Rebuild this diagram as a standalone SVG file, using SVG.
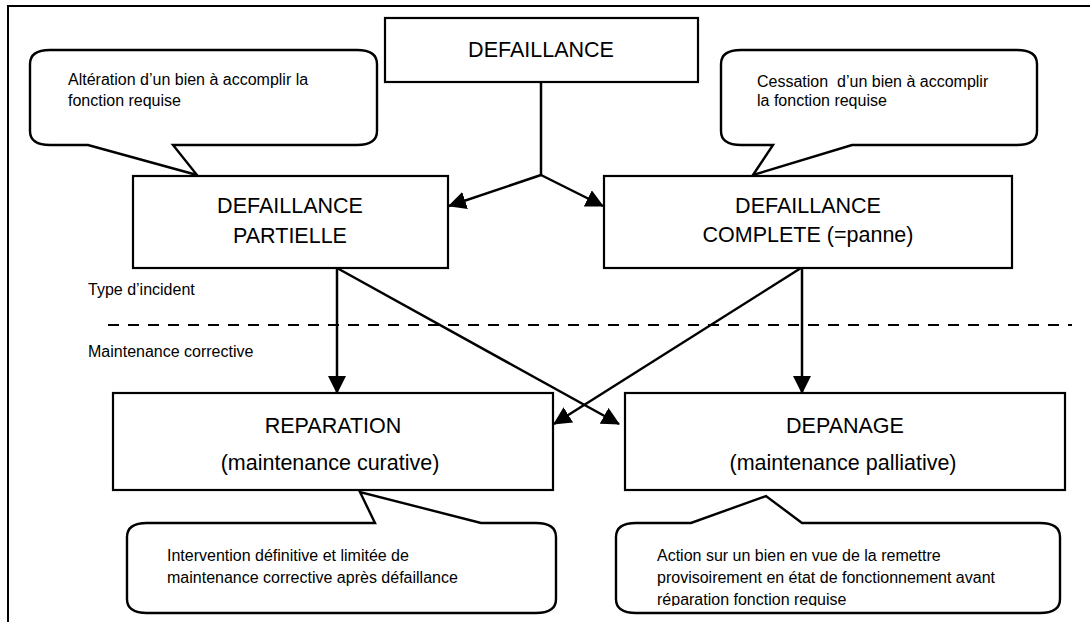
<svg xmlns="http://www.w3.org/2000/svg" width="1090" height="622" viewBox="0 0 1090 622">
<style>
.box{fill:#fff;stroke:#000;stroke-width:2.2}
.call{fill:#fff;stroke:#000;stroke-width:2.4;stroke-linejoin:miter}
.big{font-family:"Liberation Sans",Arial,sans-serif;font-size:21.5px;fill:#000;text-anchor:middle}
.small{font-family:"Liberation Sans",Arial,sans-serif;font-size:16px;fill:#000}
.lbl{font-family:"Liberation Sans",Arial,sans-serif;font-size:16px;fill:#000}
.edge{fill:none;stroke:#000;stroke-width:2.5}
</style>
<defs>
<marker id="arr" viewBox="0 0 18 18" refX="17" refY="9" markerWidth="18" markerHeight="18" markerUnits="userSpaceOnUse" orient="auto">
<path d="M0,0 L18,9 L0,18 Z" fill="#000"/>
</marker>
<clipPath id="clipBR"><rect x="600" y="520" width="480" height="86"/></clipPath>
</defs>
<rect x="0" y="0" width="1090" height="622" fill="#fff"/>
<rect x="8" y="6" width="1100" height="700" fill="none" stroke="#000" stroke-width="2"/>

<g id="sep">
<line x1="108" y1="325" x2="1072" y2="325" stroke="#000" stroke-width="2.2" stroke-dasharray="11,9"/>
<text class="lbl" x="88" y="295">Type d’incident</text>
<text class="lbl" x="88" y="357">Maintenance corrective</text>
</g>

<g id="callout-alteration">
<path class="call" d="M30,64 Q30,50 50,50 L357,50 Q377,50 377,64 L377,131 Q377,145 357,145 L173,145 L197,175 L88,145 L50,145 Q30,145 30,131 Z"/>
<text class="small" x="68" y="85">Altération d’un bien à accomplir la</text>
<text class="small" x="68" y="106">fonction requise</text>
</g>

<g id="callout-cessation">
<path class="call" d="M721,64 Q721,50 741,50 L1017,50 Q1037,50 1037,64 L1037,131 Q1037,145 1017,145 L852,145 L753,175 L773,145 L741,145 Q721,145 721,131 Z"/>
<text class="small" x="757" y="87" xml:space="preserve">Cessation  d’un bien à accomplir</text>
<text class="small" x="757" y="106">la fonction requise</text>
</g>

<g id="connectors">
<polyline class="edge" points="541,82 541,175"/>
<line class="edge" x1="541" y1="175" x2="449" y2="206" marker-end="url(#arr)"/>
<line class="edge" x1="541" y1="175" x2="603" y2="206" marker-end="url(#arr)"/>
<line class="edge" x1="337" y1="268" x2="337" y2="393" marker-end="url(#arr)"/>
<line class="edge" x1="337" y1="268" x2="619" y2="424" marker-end="url(#arr)"/>
<line class="edge" x1="801" y1="268" x2="554" y2="424" marker-end="url(#arr)"/>
<line class="edge" x1="802" y1="268" x2="802" y2="393" marker-end="url(#arr)"/>
</g>

<g id="defaillance">
<rect class="box" x="385" y="18" width="313" height="64"/>
<text class="big" x="541" y="57">DEFAILLANCE</text>
</g>

<g id="partielle">
<rect class="box" x="133" y="176" width="315" height="92"/>
<text class="big" x="290" y="213">DEFAILLANCE</text>
<text class="big" x="290" y="243">PARTIELLE</text>
</g>

<g id="complete">
<rect class="box" x="604" y="176" width="408" height="92"/>
<text class="big" x="808" y="213">DEFAILLANCE</text>
<text class="big" x="808" y="242">COMPLETE (=panne)</text>
</g>

<g id="reparation">
<rect class="box" x="113" y="393" width="440" height="97"/>
<text class="big" x="333" y="433">REPARATION</text>
<text class="big" x="330" y="470">(maintenance curative)</text>
</g>

<g id="depanage">
<rect class="box" x="625" y="393" width="440" height="97"/>
<text class="big" x="845" y="433">DEPANAGE</text>
<text class="big" x="843" y="470">(maintenance palliative)</text>
</g>

<g id="callout-intervention">
<path class="call" d="M127,537 Q127,523 147,523 L375,523 L360,492 L481,523 L536,523 Q556,523 556,537 L556,599 Q556,613 536,613 L147,613 Q127,613 127,599 Z"/>
<text class="small" x="167" y="561">Intervention définitive et limitée de</text>
<text class="small" x="167" y="583">maintenance corrective après défaillance</text>
</g>

<g id="callout-action">
<path class="call" d="M616,537 Q616,523 636,523 L691,523 L766,496 L802,523 L1040,523 Q1060,523 1060,537 L1060,599 Q1060,613 1040,613 L636,613 Q616,613 616,599 Z"/>
<g clip-path="url(#clipBR)">
<text class="small" x="657" y="561">Action sur un bien en vue de la remettre</text>
<text class="small" x="657" y="583">provisoirement en état de fonctionnement avant</text>
<text class="small" x="657" y="605">réparation fonction requise</text>
</g>
</g>
</svg>
